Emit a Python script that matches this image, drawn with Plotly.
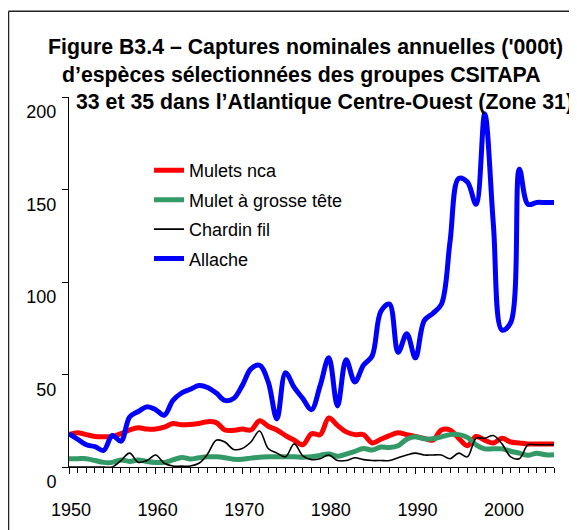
import plotly.graph_objects as go

FONT = "Arial, Liberation Sans, sans-serif"

years = list(range(1950, 2007))

mulets_nca = [
    17.5, 18.5, 17.5, 16.5, 16.3, 16.5, 18, 20, 21.2, 20.5,
    20.5, 21.5, 23.5, 22.8, 23, 23.5, 24.5, 24, 20, 19.8,
    20.5, 20, 25, 22, 20, 17, 14.5, 12, 18, 17.5,
    26.5, 22.5, 19, 17.5, 17.5, 13, 15, 17, 18.5, 17.5,
    16.5, 15.5, 14.5, 20, 20, 15.5, 11.5, 16.5, 14.5, 13,
    15.5, 13.5, 13, 12.5, 12.5, 12.5, 12.5,
]
mulet_grosse_tete = [
    4.5, 4.5, 4.5, 3.5, 2.5, 2.5, 3.8, 3, 3.8, 3,
    2.5, 2.5, 3.8, 5.2, 4.3, 5, 5.5, 5.5, 5, 4.2,
    4.2, 4.8, 5.3, 5.5, 5.5, 5.5, 5.5, 5.3, 5.5, 6.3,
    7, 5.8, 7, 8.5, 10, 9.2, 10.8, 10.5, 11.5, 15,
    16.3, 15.3, 15.3, 16.3, 17.5, 17.5, 16, 12, 9.8, 9.8,
    9.8, 8.5, 7.5, 6.3, 7.5, 6.6, 6.6,
]
chardin_fil = [
    0, 0, 0, 0, 0, 0, 3.5, 7.5, 2.5, 3.5,
    6.5, 2, 0.5, 0.5, 0.5, 2, 7, 14.5, 13.5, 9.5,
    10, 13.5, 19.5, 10, 7.5, 5.5, 12.5, 6, 4, 4.5,
    6.5, 3.5, 3.5, 5, 4, 3.5, 3.5, 3.5, 5, 6.5,
    7.5, 6.5, 6.5, 6.5, 4.5, 7.5, 5.5, 15.5, 15.5, 17,
    12.5, 5.5, 4.5, 12, 12, 12, 12,
]
allache = [
    18, 15, 12, 11, 9, 17, 14, 27, 30, 32.5,
    31, 28, 36, 40, 42, 44, 43, 40, 36, 37,
    44, 53, 55, 46, 26, 51, 43, 37, 31, 44,
    59, 33, 58, 46, 55, 60, 84, 88, 62, 72,
    59, 79, 83, 88, 122, 156, 154, 142, 191, 131,
    74, 78, 161, 142, 143, 143, 143,
]

series = [
    ("Mulets nca", mulets_nca, "#FF0000", 5),
    ("Mulet à grosse tête", mulet_grosse_tete, "#339966", 5),
    ("Chardin fil", chardin_fil, "#000000", 1.6),
    ("Allache", allache, "#0000FF", 5),
]

fig = go.Figure()
for name, values, color, width in series:
    fig.add_trace(
        go.Scatter(
            x=years,
            y=values,
            name=name,
            legendgroup=name,
            mode="lines",
            line=dict(color=color, width=width, shape="spline"),
        )
    )

title_lines = [
    ("Figure B3.4 – Captures nominales annuelles ('000t)", 0.4867, 1.1351),
    ("d’espèces sélectionnées des groupes CSITAPA", 0.4784, 1.0608),
    ("33 et 35 dans l’Atlantique Centre-Ouest (Zone 31)", 0.5258, 0.9873),
]
for text, x, y in title_lines:
    fig.add_annotation(
        text=f"<b>{text}</b>",
        xref="paper", yref="paper", x=x, y=y,
        xanchor="center", yanchor="middle",
        showarrow=False,
        font=dict(family=FONT, size=21.3, color="#000000"),
    )

# outer frame of the chart (left, top and right edges)
frame = dict(color="#222222", width=1.5)
fig.add_shape(type="line", xref="paper", yref="paper",
              x0=-0.1247, x1=-0.1247, y0=-0.2, y1=1.2316, line=frame, layer="above")
fig.add_shape(type="line", xref="paper", yref="paper",
              x0=-0.1247, x1=1.0392, y0=1.2316, y1=1.2316, line=frame, layer="above")
fig.add_shape(type="line", xref="paper", yref="paper",
              x0=1.0392, x1=1.0392, y0=-0.2, y1=1.2316, line=frame, layer="above")

fig.update_layout(
    width=577,
    height=530,
    margin=dict(l=61, r=31, t=89, b=71),
    paper_bgcolor="white",
    plot_bgcolor="white",
    font=dict(family=FONT, size=18, color="#000000"),
    showlegend=True,
    legend=dict(
        x=0.165, y=0.851, xanchor="left", yanchor="top",
        bgcolor="rgba(0,0,0,0)",
        font=dict(size=18),
        tracegroupgap=3,
        traceorder="grouped",
    ),
    xaxis=dict(
        range=[1950, 2006],
        tick0=1950, dtick=10,
        showgrid=False, zeroline=False,
        showline=True, linecolor="#000000", linewidth=1,
        ticks="outside", ticklen=6, tickcolor="#000000",
        minor=dict(dtick=1, ticks="outside", ticklen=5, tickcolor="#000000", showgrid=False),
        ticklabelstandoff=20,
        ticklabelshift=2,
        tickfont=dict(size=18),
    ),
    xaxis2=dict(
        overlaying="x", anchor="y", side="bottom",
        range=[1950, 2006],
        tick0=1950, dtick=10,
        showgrid=False, zeroline=False, showline=False,
        ticks="inside", ticklen=5, tickcolor="#000000",
        showticklabels=False,
    ),
    yaxis=dict(
        range=[0, 200],
        tickvals=[0, 50, 100, 150, 200],
        showgrid=False, zeroline=False,
        showline=True, linecolor="#000000", linewidth=1,
        ticks="outside", ticklen=6, tickcolor="#000000",
        ticklabelshift=15,
        ticklabelstandoff=2,
        tickfont=dict(size=18),
    ),
)

fig.write_html("out.html")
